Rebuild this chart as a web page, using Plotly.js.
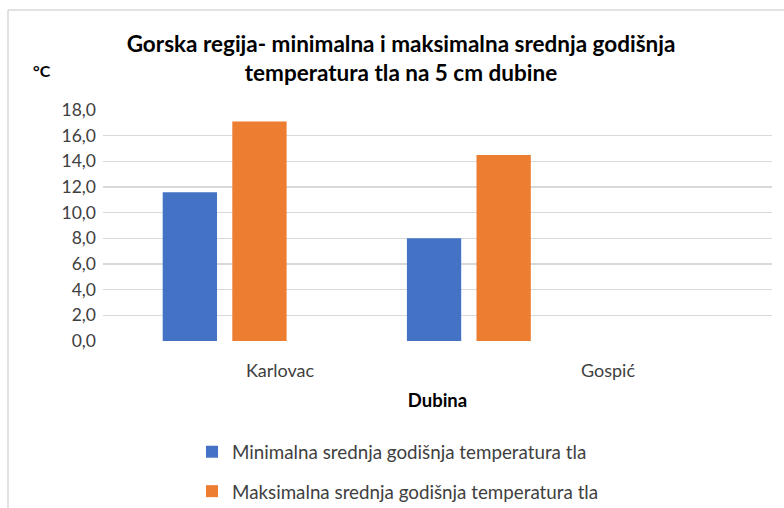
<!DOCTYPE html>
<html>
<head>
<meta charset="utf-8">
<script src="https://cdn.plot.ly/plotly-3.0.1.min.js"></script>
<style>html,body{margin:0;padding:0;background:#fff;}#chart{width:784px;height:508px;}</style>
</head>
<body>
<div id="chart"></div>
<script>
const categories = ["Karlovac", "Gospić"];
const minTemp = [11.6, 8.0];
const maxTemp = [17.1, 14.5];
const seriesNames = ["Minimalna srednja godišnja temperatura tla", "Maksimalna srednja godišnja temperatura tla"];
const yTicks = [0, 2, 4, 6, 8, 10, 12, 14, 16, 18];

const FONT = "Lato, 'Open Sans', sans-serif";
const W = 784, H = 508;
const mL = 103, mR = 12, mT = 110, mB = 167;
const pw = W - mL - mR, ph = H - mT - mB;
const px = v => (v - mL) / pw;
const py = v => (H - mB - v) / ph;
const catIdx = categories.map((c, i) => i);

const traces = [
  {type: "scatter", mode: "none", x: catIdx, y: [null, null], xaxis: "x", showlegend: false, hoverinfo: "skip"},
  {type: "bar", name: seriesNames[0], x: catIdx, y: minTemp, xaxis: "x2", marker: {color: "#4472c4"},
   width: 0.2224, offset: -0.2543, legendgroup: "a"},
  {type: "bar", name: seriesNames[1], x: catIdx, y: maxTemp, xaxis: "x2", marker: {color: "#ed7d31"},
   width: 0.2224, offset: 0.0307, legendgroup: "b"}
];

const layout = {
  width: W, height: H,
  margin: {l: mL, r: mR, t: mT, b: mB, pad: 0, autoexpand: false},
  paper_bgcolor: "#fff", plot_bgcolor: "#fff",
  separators: ",.",
  font: {family: FONT, color: "#595959", size: 15},
  barmode: "overlay",
  title: {
    text: "<b>Gorska regija- minimalna i maksimalna srednja godišnja<br>temperatura tla na 5 cm dubine</b>",
    font: {family: FONT, size: 22.5, color: "#000"},
    x: px(401), xref: "paper", xanchor: "center",
    y: 1 - 52 / H, yanchor: "top"
  },
  xaxis: {
    range: [-0.5396, 1.5], autorange: false, tickvals: catIdx, ticktext: categories,
    showgrid: false, zeroline: false, showline: false, ticks: "",
    tickfont: {size: 18, color: "#404040"}, ticklabelstandoff: 17,
    title: {text: "<b>Dubina</b>", font: {size: 18.5, color: "#000"}, standoff: 14}
  },
  xaxis2: {
    overlaying: "x", range: [-0.4988, 2.2408], autorange: false,
    showgrid: false, zeroline: false, showline: false, showticklabels: false, ticks: ""
  },
  yaxis: {
    range: [0, 18], autorange: false, tickvals: yTicks, tickformat: ".1f",
    showgrid: true, gridcolor: "#d9d9d9", gridwidth: 1.3,
    zeroline: false, showline: false, ticks: "", ticklen: 0,
    tickfont: {size: 17.5, color: "#404040"}, ticklabelstandoff: 6
  },
  legend: {
    orientation: "v", x: px(192), xanchor: "left", y: py(433), yanchor: "top",
    font: {size: 18.8, color: "#404040"}, tracegroupgap: 12, itemwidth: 30,
    bgcolor: "rgba(0,0,0,0)"
  },
  annotations: [
    {text: "<b>°C</b>", xref: "paper", yref: "paper", x: px(31), y: py(70), xanchor: "left", yanchor: "middle",
     showarrow: false, font: {family: FONT, size: 16, color: "#000"}}
  ],
  shapes: [
    {type: "line", xref: "paper", yref: "paper", x0: px(8), x1: px(8), y0: py(10), y1: py(508), line: {color: "#d9d9d9", width: 1.5}},
    {type: "line", xref: "paper", yref: "paper", x0: px(8), x1: px(784), y0: py(10), y1: py(10), line: {color: "#d9d9d9", width: 1.5}}
  ]
};

Plotly.newPlot("chart", traces, layout, {displayModeBar: false, staticPlot: true});
</script>
</body>
</html>
